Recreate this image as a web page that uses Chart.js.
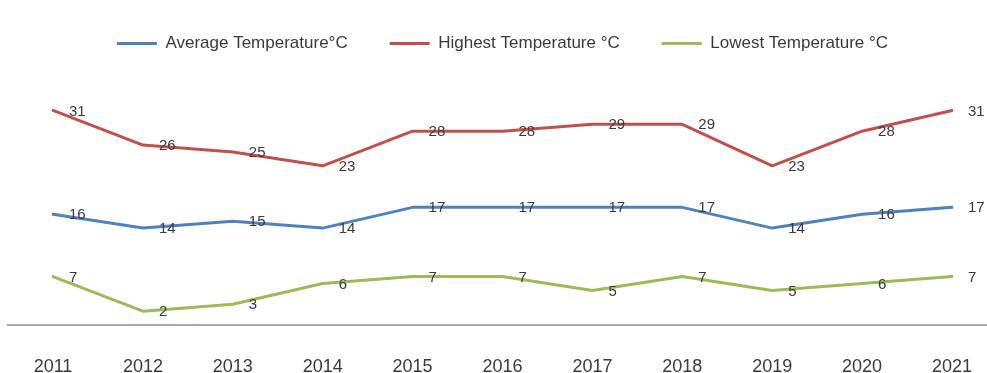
<!DOCTYPE html>
<html>
<head>
<meta charset="utf-8">
<script src="https://cdn.jsdelivr.net/npm/chart.js@4/dist/chart.umd.min.js"></script>
<style>
  html, body { margin: 0; padding: 0; background: #fff; }
  #wrap { width: 987px; height: 373px; position: relative; }
</style>
</head>
<body>
<div id="wrap"><canvas id="c"></canvas></div>
<script>
const years = ['2011','2012','2013','2014','2015','2016','2017','2018','2019','2020','2021'];
const avgTemp = [16, 14, 15, 14, 17, 17, 17, 17, 14, 16, 17];
const highTemp = [31, 26, 25, 23, 28, 28, 29, 29, 23, 28, 31];
const lowTemp = [7, 2, 3, 6, 7, 7, 5, 7, 5, 6, 7];
const seriesNames = ['Average Temperature°C', 'Highest Temperature °C', 'Lowest Temperature °C'];
const seriesColors = ['#4f81bd', '#c0504d', '#9bbb59'];

const FONT = "'Liberation Sans', Arial, sans-serif";

// value labels to the right of each point
const pointLabels = {
  id: 'pointLabels',
  afterDatasetsDraw(chart) {
    const ctx = chart.ctx;
    ctx.save();
    ctx.font = '15px ' + FONT;
    ctx.fillStyle = '#3a3a3a';
    ctx.textAlign = 'left';
    ctx.textBaseline = 'middle';
    chart.data.datasets.forEach((ds, i) => {
      const meta = chart.getDatasetMeta(i);
      meta.data.forEach((pt, j) => {
        ctx.fillText(String(ds.data[j]), pt.x + 16, pt.y + 1);
      });
    });
    ctx.restore();
  }
};

// horizontal category axis line across the full width
const baseLine = {
  id: 'baseLine',
  beforeDatasetsDraw(chart) {
    const ctx = chart.ctx;
    const y = chart.scales.y.getPixelForValue(0);
    ctx.save();
    ctx.strokeStyle = '#a8a8a8';
    ctx.lineWidth = 2;
    ctx.beginPath();
    ctx.moveTo(7, y);
    ctx.lineTo(chart.width, y);
    ctx.stroke();
    ctx.restore();
  }
};

new Chart(document.getElementById('c'), {
  type: 'line',
  data: {
    labels: years,
    datasets: [
      { label: seriesNames[0], data: avgTemp, borderColor: seriesColors[0], backgroundColor: seriesColors[0] },
      { label: seriesNames[1], data: highTemp, borderColor: seriesColors[1], backgroundColor: seriesColors[1] },
      { label: seriesNames[2], data: lowTemp, borderColor: seriesColors[2], backgroundColor: seriesColors[2] }
    ]
  },
  options: {
    responsive: true,
    maintainAspectRatio: false,
    animation: false,
    devicePixelRatio: 1,
    layout: { padding: { left: 53, right: 35, top: -7, bottom: 0 } },
    elements: {
      line: { borderWidth: 3, tension: 0, borderCapStyle: 'round', borderJoinStyle: 'round' },
      point: { radius: 0, hoverRadius: 0 }
    },
    plugins: {
      legend: {
        position: 'top',
        align: 'center',
        labels: {
          usePointStyle: true,
          pointStyle: 'line',
          pointStyleWidth: 40,
          boxHeight: 2,
          padding: 42,
          color: '#3a3a3a',
          font: { family: FONT, size: 17 },
          generateLabels(chart) {
            const items = Chart.defaults.plugins.legend.labels.generateLabels(chart);
            items.forEach((it, i) => {
              it.strokeStyle = seriesColors[i];
              it.fillStyle = seriesColors[i];
              it.lineWidth = 3;
            });
            return items;
          }
        }
      },
      tooltip: { enabled: false }
    },
    scales: {
      x: {
        offset: false,
        grid: {
          display: true,
          drawOnChartArea: false,
          drawTicks: true,
          tickLength: 31,
          color: 'rgba(0,0,0,0)'
        },
        border: { display: false },
        ticks: { color: '#3a3a3a', padding: 0, font: { family: FONT, size: 18 }, maxRotation: 0 },
        afterFit(scale) { scale.height = 48; }
      },
      y: {
        display: false,
        min: 0,
        max: 38
      }
    }
  },
  plugins: [pointLabels, baseLine]
});
</script>
</body>
</html>
